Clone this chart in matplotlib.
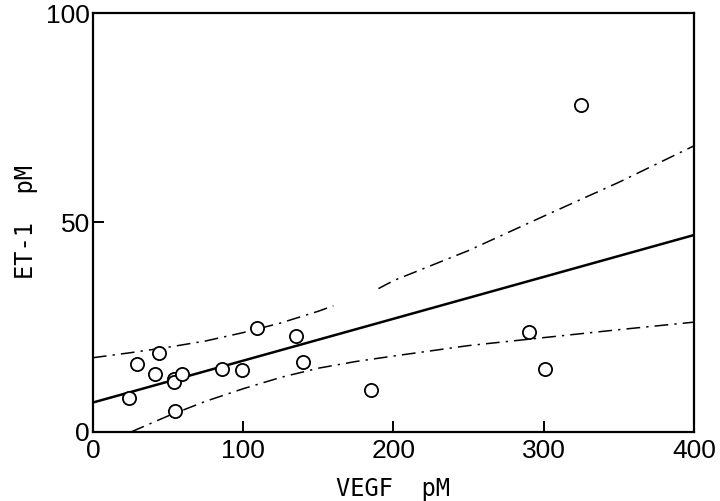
#!/usr/bin/env python3
import matplotlib
matplotlib.use('Agg')
import matplotlib.pyplot as plt

# scatter points
vegf = [24, 29.5, 44, 41.5, 54, 54, 59.5, 54.5, 86, 99.5, 109.5, 135, 140,
        185, 290, 301, 325]
et1 = [8.1, 16.1, 18.9, 13.7, 12.7, 11.8, 13.9, 4.9, 14.9, 14.7, 24.9, 23.0,
       16.6, 10.1, 23.8, 15.0, 78.0]

# regression line endpoints
fit_x = [0, 400]
fit_y = [7.0, 47.0]

# upper confidence band (there is a gap in the original between ~160 and ~190)
up_x1 = [0, 25, 50, 75, 100, 125, 150, 160]
up_y1 = [17.7, 18.9, 20.2, 21.7, 23.7, 26.0, 28.8, 30.1]
up_x2 = [190, 200, 250, 300, 350, 400]
up_y2 = [34.2, 36.1, 43.3, 51.5, 59.6, 68.3]

# lower confidence band
lo_x = [25.5, 50, 75, 100, 125, 150, 175, 200, 250, 300, 350, 400]
lo_y = [0.0, 3.8, 7.3, 10.3, 13.0, 15.2, 16.8, 18.1, 20.6, 22.5, 24.4, 26.2]


def plot_chart():
    plt.rcParams.update({
        'font.family': ['Liberation Sans', 'DejaVu Sans'],
        'font.size': 19,
        'axes.linewidth': 1.6,
        'xtick.direction': 'in',
        'ytick.direction': 'in',
        'xtick.major.size': 8,
        'ytick.major.size': 8,
        'xtick.major.width': 1.4,
        'ytick.major.width': 1.4,
    })
    fig = plt.figure(figsize=(7.2, 5.01), dpi=100)
    ax = fig.add_axes([0.129, 0.138, 0.835, 0.836])

    dashdot = (0, (9, 4, 1.5, 4))
    ax.plot(fit_x, fit_y, color='black', lw=1.8)
    ax.plot(up_x1, up_y1, color='black', lw=1.1, linestyle=dashdot)
    ax.plot(up_x2, up_y2, color='black', lw=1.1, linestyle=dashdot)
    ax.plot(lo_x, lo_y, color='black', lw=1.1, linestyle=dashdot)
    ax.plot(vegf, et1, linestyle='none', marker='o', markersize=9.5,
            markerfacecolor='white', markeredgecolor='black',
            markeredgewidth=1.3)

    ax.set_xlim(0, 400)
    ax.set_ylim(0, 100)
    ax.set_xticks([0, 100, 200, 300, 400])
    ax.set_yticks([0, 50, 100])
    ax.tick_params(axis='x', pad=5)
    ax.tick_params(axis='y', pad=2)
    ax.set_xlabel('VEGF  pM', family='DejaVu Sans Mono', fontsize=17,
                  labelpad=10)
    ax.set_ylabel('ET-1  pM', family='DejaVu Sans Mono', fontsize=17,
                  labelpad=6)

    fig.savefig('out.png', dpi=100)


if __name__ == '__main__':
    plot_chart()
